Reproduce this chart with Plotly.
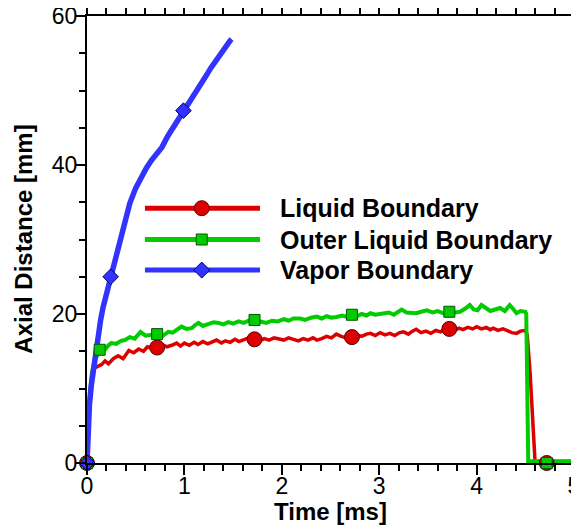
import plotly.graph_objects as go

# ---------------- data ----------------
liquid_t = [0, 0.014, 0.03, 0.05, 0.065, 0.1, 0.15, 0.185, 0.22, 0.27, 0.32, 0.37, 0.43, 0.48, 0.53,
            0.58, 0.62, 0.664, 0.72, 0.77, 0.82, 0.87, 0.92, 0.96, 1.0, 1.05, 1.1, 1.14, 1.19, 1.24,
            1.28, 1.33, 1.38, 1.42, 1.47, 1.52, 1.56, 1.61, 1.66, 1.72, 1.77, 1.82, 1.87, 1.92, 1.97,
            2.02, 2.07, 2.12, 2.17, 2.22, 2.27, 2.32, 2.36, 2.41, 2.46, 2.51, 2.56, 2.61, 2.66, 2.72,
            2.77, 2.82, 2.87, 2.91, 2.96, 3.01, 3.06, 3.11, 3.16, 3.21, 3.25, 3.3, 3.34, 3.38, 3.43,
            3.48, 3.53, 3.58, 3.63, 3.67, 3.72, 3.77, 3.82, 3.86, 3.91, 3.96, 4.0, 4.05, 4.1, 4.14,
            4.17, 4.22, 4.27, 4.31, 4.36, 4.41, 4.45, 4.5, 4.52, 4.55, 4.58, 4.6, 5.0]
liquid_y = [0, 3.9, 8.9, 11.4, 12.6, 12.9, 13.2, 13.7, 13.3, 14.0, 14.4, 14.0, 15.1, 14.8, 15.3,
            15.0, 15.6, 15.4, 15.5, 15.9, 15.6, 15.8, 16.1, 15.7, 16.1, 15.8, 16.2, 15.9, 16.3, 16.0,
            16.2, 16.5, 16.1, 16.4, 16.2, 16.6, 16.3, 16.5, 16.8, 16.6, 16.4, 16.7, 16.5, 16.8, 16.6,
            16.5, 16.8, 16.6, 16.4, 16.7, 16.5, 16.8, 16.5, 16.7, 17.0, 16.8, 17.3, 17.0, 16.8, 16.9,
            17.2, 17.0, 17.3, 17.4, 17.1, 17.5, 17.2, 17.4, 17.1, 17.5, 17.6, 17.3, 17.7, 17.95, 17.5,
            17.7, 17.4, 17.8, 17.6, 17.9, 18.0, 17.8, 18.1, 17.9, 18.2, 18.0, 18.3, 18.0, 18.2, 17.9,
            18.1, 17.8, 18.0, 17.8, 17.5, 17.4, 17.7, 17.8, 17.2, 12.0, 4.8, 0.2, 0.2]
liquid_mark_t = [0, 0.72, 1.72, 2.72, 3.72, 4.72]
liquid_mark_y = [0, 15.5, 16.6, 16.9, 18.0, 0]

outer_t = [0, 0.014, 0.03, 0.05, 0.08, 0.1, 0.13, 0.16, 0.19, 0.22, 0.25, 0.3, 0.35, 0.39, 0.44,
           0.49, 0.52, 0.55, 0.6, 0.66, 0.72, 0.78, 0.835, 0.88, 0.93, 0.97, 1.02, 1.075, 1.11, 1.145,
           1.19, 1.24, 1.3, 1.35, 1.4, 1.45, 1.5, 1.556, 1.61, 1.66, 1.72, 1.78, 1.84, 1.9, 1.96,
           2.02, 2.07, 2.12, 2.19, 2.24, 2.3, 2.36, 2.41, 2.46, 2.51, 2.56, 2.62, 2.67, 2.72, 2.77,
           2.82, 2.87, 2.91, 2.96, 3.04, 3.1, 3.15, 3.2, 3.23, 3.28, 3.33, 3.38, 3.43, 3.49, 3.55,
           3.6, 3.66, 3.72, 3.78, 3.83, 3.88, 3.93, 3.97, 4.01, 4.05, 4.1, 4.14, 4.19, 4.24, 4.29,
           4.34, 4.38, 4.41, 4.45, 4.5, 4.51, 4.53, 5.0]
outer_y = [0, 5.3, 9.5, 12.0, 14.0, 14.3, 15.2, 15.4, 15.3, 15.8, 16.1, 16.0, 16.4, 16.5, 16.9,
           16.7, 17.2, 17.6, 17.1, 17.2, 17.3, 17.1, 17.6, 17.5, 17.9, 18.3, 18.0, 18.1, 18.5, 18.8,
           18.4, 18.6, 18.9, 18.8, 18.6, 18.9, 18.7, 19.0, 18.8, 19.1, 19.2, 19.0, 18.8, 19.1, 19.0,
           19.3, 19.1, 19.4, 19.4, 19.2, 19.5, 19.65, 19.4, 19.7, 19.5, 19.6, 19.8, 19.6, 19.9, 19.7,
           20.0, 19.8, 20.1, 19.9, 20.0, 20.2, 19.9, 20.3, 20.6, 20.2, 20.1, 20.1, 20.3, 20.5, 20.2,
           20.4, 20.1, 20.3, 20.2, 20.3, 20.7, 21.2, 20.6, 20.5, 21.2, 20.8, 20.4, 20.6, 20.8, 20.4,
           21.2, 20.6, 20.1, 20.4, 20.3, 20.0, 0.25, 0.25]
outer_mark_t = [0, 0.13, 0.72, 1.72, 2.72, 3.72, 4.72]
outer_mark_y = [0, 15.2, 17.3, 19.2, 19.9, 20.3, 0]

vapor_t = [0, 0.01, 0.025, 0.045, 0.065, 0.09, 0.115, 0.14, 0.165, 0.19, 0.215, 0.243, 0.29, 0.339,
           0.39, 0.44, 0.5, 0.55, 0.61, 0.66, 0.72, 0.77, 0.83, 0.88, 0.94, 0.99, 1.05, 1.1, 1.16,
           1.21, 1.27, 1.33, 1.38, 1.43, 1.47, 1.485]
vapor_y = [0, 4.5, 7.8, 10.5, 12.6, 15.0, 17.3, 19.2, 20.9, 22.2, 23.6, 25.0, 27.5, 30.1,
           32.7, 34.9, 36.9, 38.2, 39.6, 40.6, 41.5, 42.4, 43.9, 44.9, 46.3, 47.3, 48.5, 49.3, 50.4,
           51.7, 53.0, 54.2, 55.1, 56.0, 56.7, 56.9]
vapor_mark_t = [0, 0.243, 0.99]
vapor_mark_y = [0, 25.0, 47.3]

series_names = ["Liquid Boundary", "Outer Liquid Boundary", "Vapor Boundary"]
x_ticks = [0, 1, 2, 3, 4, 5]
y_ticks = [0, 20, 40, 60]

# ---------------- styles ----------------
RED, GREEN, BLUE = "#dd0000", "#00cc00", "#3333ff"
RED_E, GREEN_E, BLUE_E = "#550000", "#005500", "#000055"
FONT = "Liberation Sans, Arial, sans-serif"

fig = go.Figure()

fig.add_trace(go.Scatter(x=liquid_t, y=liquid_y, mode="lines",
                         line=dict(color=RED, width=3.5), showlegend=False, cliponaxis=False))
fig.add_trace(go.Scatter(x=outer_t, y=outer_y, mode="lines",
                         line=dict(color=GREEN, width=4), showlegend=False, cliponaxis=False))
fig.add_trace(go.Scatter(x=vapor_t, y=vapor_y, mode="lines",
                         line=dict(color=BLUE, width=5.5), showlegend=False, cliponaxis=False))

fig.add_trace(go.Scatter(x=liquid_mark_t, y=liquid_mark_y, mode="markers",
                         marker=dict(symbol="circle", size=15, color=RED,
                                     line=dict(color=RED_E, width=1)),
                         showlegend=False, cliponaxis=False))
fig.add_trace(go.Scatter(x=outer_mark_t, y=outer_mark_y, mode="markers",
                         marker=dict(symbol="square", size=11, color=GREEN,
                                     line=dict(color=GREEN_E, width=1)),
                         showlegend=False, cliponaxis=False))
fig.add_trace(go.Scatter(x=vapor_mark_t, y=vapor_mark_y, mode="markers",
                         marker=dict(symbol="diamond", size=12, color=BLUE,
                                     line=dict(color=BLUE_E, width=1)),
                         showlegend=False, cliponaxis=False))

# invisible trace so that the mirrored (top / right) tick axes are drawn
fig.add_trace(go.Scatter(x=[None], y=[None], xaxis="x2", yaxis="y2", showlegend=False,
                         hoverinfo="skip"))

# ---------------- manual legend (inside plot) ----------------
leg_rows_y = [34.2, 30.0, 25.9]
leg_x0, leg_x1, leg_xm, leg_xt = 0.595, 1.776, 1.178, 1.96
colors = [RED, GREEN, BLUE]
edges = [RED_E, GREEN_E, BLUE_E]
shapes = []
annotations = []
for name, yy, c, e, k in zip(series_names, leg_rows_y, colors, edges, range(3)):
    shapes.append(dict(type="line", xref="x", yref="y", x0=leg_x0, x1=leg_x1, y0=yy, y1=yy,
                       line=dict(color=c, width=5)))
    if k == 0:
        shapes.append(dict(type="circle", xref="x", yref="y", xsizemode="pixel", ysizemode="pixel",
                           xanchor=leg_xm, yanchor=yy, x0=-7.5, x1=7.5, y0=-7.5, y1=7.5,
                           fillcolor=c, line=dict(color=e, width=1)))
    elif k == 1:
        shapes.append(dict(type="rect", xref="x", yref="y", xsizemode="pixel", ysizemode="pixel",
                           xanchor=leg_xm, yanchor=yy, x0=-5.5, x1=5.5, y0=-5.5, y1=5.5,
                           fillcolor=c, line=dict(color=e, width=1)))
    else:
        shapes.append(dict(type="path", xref="x", yref="y", xsizemode="pixel", ysizemode="pixel",
                           xanchor=leg_xm, yanchor=yy, path="M0,8 L8,0 L0,-8 L-8,0 Z",
                           fillcolor=c, line=dict(color=e, width=1)))
    annotations.append(dict(x=leg_xt, y=yy, xref="x", yref="y", text="<b>%s</b>" % name,
                            showarrow=False, xanchor="left", yanchor="middle",
                            font=dict(family=FONT, size=25, color="black")))

# axis titles as annotations for exact placement
annotations.append(dict(x=0.5, y=-0.109, xref="paper", yref="paper", text="<b>Time [ms]</b>",
                        showarrow=False, xanchor="center", yanchor="middle",
                        font=dict(family=FONT, size=24, color="black")))
annotations.append(dict(x=-0.131, y=0.5, xref="paper", yref="paper",
                        text="<b>Axial Distance [mm]</b>", textangle=-90,
                        showarrow=False, xanchor="center", yanchor="middle",
                        font=dict(family=FONT, size=24, color="black")))

tick_common = dict(showgrid=False, zeroline=False, showline=True, linecolor="black", linewidth=2,
                   ticks="outside", ticklen=10, tickwidth=2, tickcolor="black", automargin=False,
                   ticklabeloverflow="allow",
                   tickfont=dict(family=FONT, size=23, color="black"))

# the page body has an 8px margin, so the figure is made 8px smaller and the margins shifted
fig.update_layout(
    width=571, height=522,
    margin=dict(l=79, r=5, t=8, b=67),
    plot_bgcolor="white", paper_bgcolor="white",
    showlegend=False,
    shapes=shapes, annotations=annotations,
    xaxis=dict(range=[0, 5], tickvals=x_ticks, ticklabelstandoff=-9,
               minor=dict(dtick=0.2, ticks="outside", ticklen=6, tickwidth=1.5, tickcolor="black"),
               **tick_common),
    yaxis=dict(range=[0, 60], tickvals=y_ticks, ticklabelstandoff=-7,
               minor=dict(dtick=5, ticks="outside", ticklen=6, tickwidth=1.5, tickcolor="black"),
               **tick_common),
    xaxis2=dict(range=[0, 5], tickvals=x_ticks, overlaying="x", side="top", anchor="y2",
                showticklabels=False,
                minor=dict(dtick=0.2, ticks="outside", ticklen=6, tickwidth=1.5, tickcolor="black"),
                **tick_common),
    yaxis2=dict(range=[0, 60], tickvals=y_ticks, overlaying="y", side="right", anchor="x2",
                showticklabels=False,
                minor=dict(dtick=5, ticks="outside", ticklen=6, tickwidth=1.5, tickcolor="black"),
                **tick_common),
)

fig.write_html("out.html")
